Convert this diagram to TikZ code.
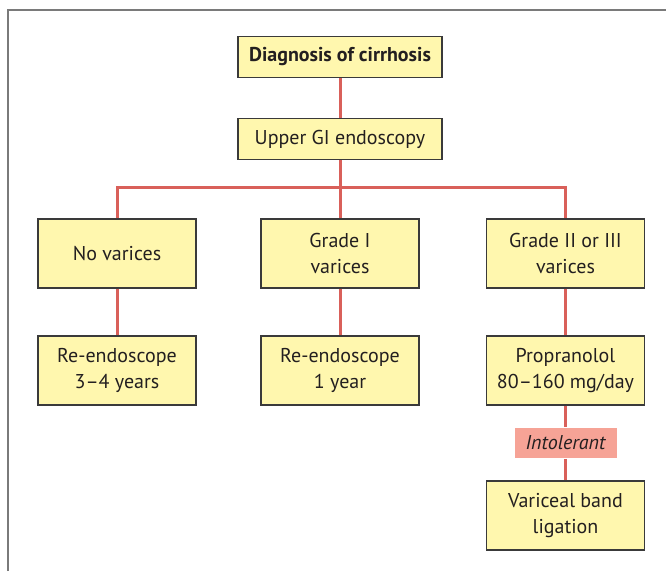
\documentclass[tikz,border=0pt]{standalone}
\usepackage{fontspec}
\setmainfont{PT Sans}
\usetikzlibrary{positioning}
\definecolor{border}{HTML}{3A3A3A}
\definecolor{fillBox}{HTML}{FFF7AE}
\definecolor{linkCol}{HTML}{D9605A}
\definecolor{tagFill}{HTML}{F6A396}
\definecolor{frameCol}{HTML}{7A7A7A}
\definecolor{textMain}{HTML}{231F20}
\tikzset{
  flowbox/.style={
    rectangle, draw=border, fill=fillBox, line width=1.2pt,
    minimum width=158pt, minimum height=69pt, align=center,
    font=\fontsize{20}{26}\selectfont, text=textMain, inner sep=0pt,
  },
  headbox/.style={
    flowbox, minimum width=204pt, minimum height=41pt,
  },
  tagbox/.style={
    rectangle, fill=tagFill, draw=white, line width=0.8pt,
    minimum width=103pt, minimum height=31pt,
    font=\fontsize{20}{26}\selectfont\itshape, text=textMain, inner sep=0pt,
  },
  link/.style={draw=linkCol, line width=3pt},
}

\begin{document}
\begin{tikzpicture}[x=1pt, y=-1pt]
  \useasboundingbox (0,0) rectangle (666,571);

  % frame
  \draw[frameCol, line width=1.5pt] (8,571) -- (8,10) -- (666,10);

  % top
  \node[headbox, font=\fontsize{20}{26}\selectfont\bfseries] (diag) at (340,57) {Diagnosis of cirrhosis};
  \node[headbox] (upper) at (340,139) {Upper GI endoscopy};

  % grades
  \node[flowbox] (novar) at (117,253.5) {No varices};
  \node[flowbox] (gradeA) at (340,253.5) {Grade I\\varices};
  \node[flowbox] (gradeB) at (565.5,253.5) {Grade II or III\\varices};

  % follow-up
  \node[flowbox] (reA) at (117,370.5) {Re-endoscope\\3--4 years};
  \node[flowbox] (reB) at (340,370.5) {Re-endoscope\\1 year};
  \node[flowbox] (prop) at (565.5,370.5) {Propranolol\\80--160 mg/day};
  \node[tagbox] (intol) at (565.5,443) {Intolerant};
  \node[flowbox] (band) at (565.5,515.5) {Variceal band\\ligation};

  \coordinate (bar) at (340,187);

  % links
  \draw[link] (diag.south) -- (upper.north);
  \draw[link] (upper.south) -- (gradeA.north);
  \draw[link] (novar.north) |- (bar) -| (gradeB.north);
  \draw[link] (novar.south) -- (reA.north);
  \draw[link] (gradeA.south) -- (reB.north);
  \draw[link] (gradeB.south) -- (prop.north);
  \draw[link] (prop.south) -- (intol.north);
  \draw[link] (intol.south) -- (band.north);

\end{tikzpicture}
\end{document}
